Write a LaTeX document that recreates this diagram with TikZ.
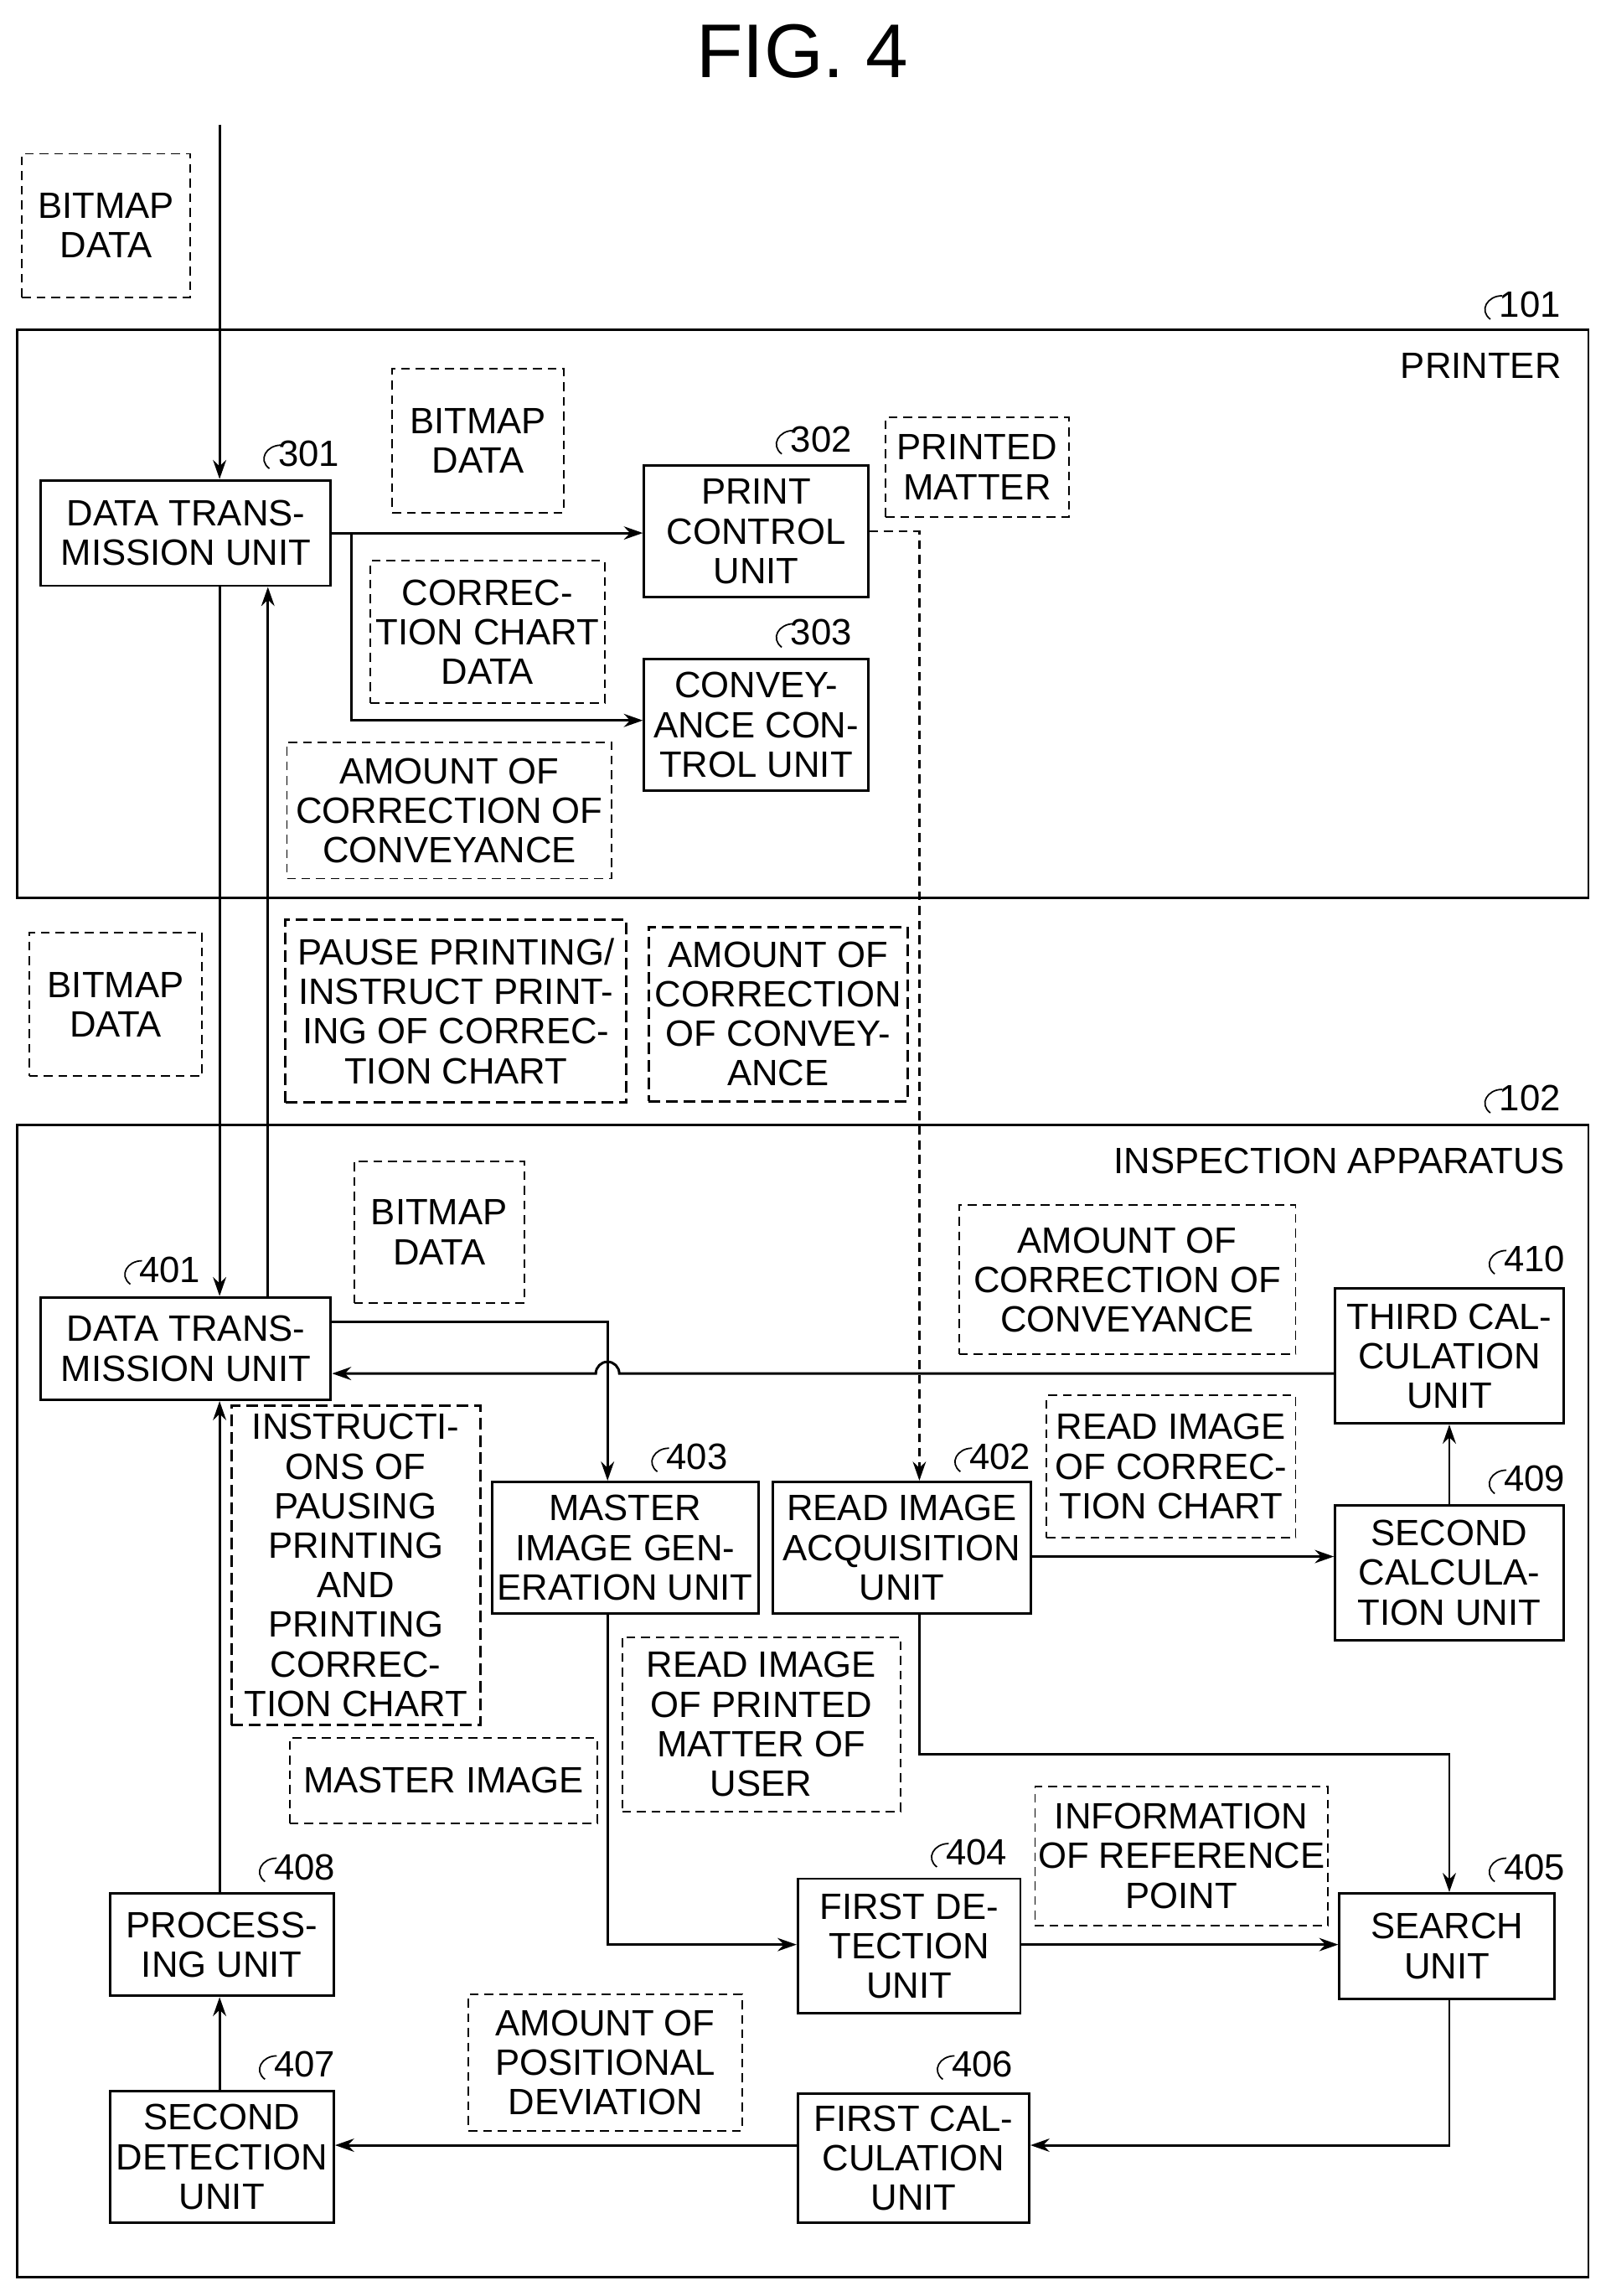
\documentclass[tikz,border=0pt]{standalone}
\usepackage{fontspec}
\setmainfont{Liberation Sans}
\usetikzlibrary{arrows.meta,calc}
\tikzset{
 box/.style={draw,line width=1.7pt,align=center,inner sep=0pt},
 dbox/.style={draw,line width=1.1pt,dash pattern=on 6pt off 4pt,align=center,inner sep=0pt},
 ddbox/.style={draw,line width=1.8pt,dash pattern=on 8pt off 4pt,align=center,inner sep=0pt},
 frame/.style={draw,line width=1.7pt},
 arr/.style={line width=1.7pt,-{Stealth[length=13pt,width=9pt]}},
 darr/.style={line width=1.3pt,dash pattern=on 6pt off 4pt,-{Stealth[length=13pt,width=9pt]}},
}
\newcommand\bx[7][box]{\node[#1,minimum width={(#5-#3)*1pt},minimum height={(#6-#4)*1pt}] (#2) at ({(#3+#5)/2},{(#4+#6)/2}) {#7};}
\newcommand\lab[3]{\draw[line width=1pt] ({#1-12},{#2+10}) .. controls ({#1-20},{#2+4}) and ({#1-14},{#2-6}) .. ({#1-4},{#2-6}); \node[anchor=west,inner sep=0pt] (l#3) at ({#1-6},#2) {#3};}
\begin{document}
\begin{tikzpicture}[x=1pt,y=-1pt,font=\fontsize{25}{27}\selectfont]
\useasboundingbox (0,0) rectangle (1097,1568);
\node[font=\fontsize{52}{56}\selectfont] (title) at (548,35) {FIG. 4};
% printer
\node[frame,minimum width=1073pt,minimum height=388pt] (printer) at (548.5,419) {};
\node[anchor=east] (ptxt) at (1070,250) {PRINTER};
\lab{1030}{208}{101}
\bx[dbox]{bm1}{15}{105}{130}{203}{BITMAP\\DATA}
\bx{n301}{28}{328}{226}{400}{DATA TRANS-\\MISSION UNIT}
\lab{196}{310}{301}
\bx[dbox]{bm2}{268}{252}{385}{350}{BITMAP\\DATA}
\bx{n302}{440}{318}{593}{408}{PRINT\\CONTROL\\UNIT}
\lab{546}{300}{302}
\bx[dbox]{pm}{605}{285}{730}{353}{PRINTED\\MATTER}
\bx{n303}{440}{450}{593}{540}{CONVEY-\\ANCE CON-\\TROL UNIT}
\lab{546}{432}{303}
\bx[dbox]{ccd}{253}{383}{413}{480}{CORREC-\\TION CHART\\DATA}
\bx[dbox]{acc1}{196}{507}{418}{600}{AMOUNT OF\\CORRECTION OF\\CONVEYANCE}
\bx[dbox]{bm3}{20}{637}{138}{735}{BITMAP\\DATA}
\bx[ddbox]{pause}{195}{628}{428}{753}{PAUSE PRINTING/\\INSTRUCT PRINT-\\ING OF CORREC-\\TION CHART}
\bx[ddbox]{acc2}{443}{633}{620}{752}{AMOUNT OF\\CORRECTION\\OF CONVEY-\\ANCE}
% inspection
\node[frame,minimum width=1073pt,minimum height=787pt] (insp) at (548.5,1161.5) {};
\node[anchor=east] (itxt) at (1072,793) {INSPECTION APPARATUS};
\lab{1030}{750}{102}
\bx[dbox]{bm4}{242}{793}{358}{890}{BITMAP\\DATA}
\bx{n401}{28}{886}{226}{956}{DATA TRANS-\\MISSION UNIT}
\lab{101}{867}{401}
\bx[dbox]{acc3}{655}{823}{885}{925}{AMOUNT OF\\CORRECTION OF\\CONVEYANCE}
\bx{n410}{912}{880}{1068}{972}{THIRD CAL-\\CULATION\\UNIT}
\lab{1033}{860}{410}
\bx[ddbox]{instr}{158}{960}{328}{1178}{INSTRUCTI-\\ONS OF\\PAUSING\\PRINTING\\AND\\PRINTING\\CORREC-\\TION CHART}
\bx{n403}{336}{1012}{518}{1102}{MASTER\\IMAGE GEN-\\ERATION UNIT}
\lab{461}{995}{403}
\bx{n402}{528}{1012}{704}{1102}{READ IMAGE\\ACQUISITION\\UNIT}
\lab{668}{995}{402}
\bx[dbox]{ric}{715}{953}{885}{1050}{READ IMAGE\\OF CORREC-\\TION CHART}
\bx{n409}{912}{1028}{1068}{1120}{SECOND\\CALCULA-\\TION UNIT}
\lab{1033}{1010}{409}
\bx[dbox]{rip}{425}{1118}{615}{1237}{READ IMAGE\\OF PRINTED\\MATTER OF\\USER}
\bx[dbox]{mi}{198}{1187}{408}{1245}{MASTER IMAGE}
\bx{n404}{545}{1283}{697}{1375}{FIRST DE-\\TECTION\\UNIT}
\lab{652}{1265}{404}
\bx[dbox]{irp}{707}{1220}{907}{1315}{INFORMATION\\OF REFERENCE\\POINT}
\bx{n405}{915}{1293}{1062}{1365}{SEARCH\\UNIT}
\lab{1033}{1275}{405}
\bx{n406}{545}{1430}{703}{1518}{FIRST CAL-\\CULATION\\UNIT}
\lab{656}{1410}{406}
\bx[dbox]{apd}{320}{1362}{507}{1455}{AMOUNT OF\\POSITIONAL\\DEVIATION}
\bx{n407}{75}{1428}{228}{1518}{SECOND\\DETECTION\\UNIT}
\lab{193}{1410}{407}
\bx{n408}{75}{1293}{228}{1363}{PROCESS-\\ING UNIT}
\lab{193}{1275}{408}
% connectors
\coordinate (in) at (150,85);
\draw[arr] (in) -- (150,0 |- n301.north);
\draw[arr] (n301.east) -- (n301.east -| n302.west);
\draw[arr] (240,0 |- n301.east) -- (240,492) -- (240,492 -| n303.west);
\draw[darr] (n302.east) -- (628,0 |- n302.east) -- (628,0 |- n402.north);
\draw[arr] (183,0 |- n401.north) -- (183,0 |- n301.south);
\draw[arr] (150,0 |- n301.south) -- (150,0 |- n401.north);
\draw[arr] (n410.west |- 0,938) -- (423,938) arc[start angle=0,end angle=180,radius=8pt] -- (n401.east |- 0,938);
\draw[arr] (n401.east |- 0,903) -- (415,903) -- (415,0 |- n403.north);
\draw[arr] (n402.east |- 0,1063) -- (n409.west |- 0,1063);
\draw[arr] (990,0 |- n409.north) -- (990,0 |- n410.south);
\draw[arr] (628,0 |- n402.south) -- (628,1198) -- (990,1198) -- (990,0 |- n405.north);
\draw[arr] (415,0 |- n403.south) -- (415,1328) -- (n404.west |- 0,1328);
\draw[arr] (n404.east |- 0,1328) -- (n405.west |- 0,1328);
\draw[arr] (990,0 |- n405.south) -- (990,1465) -- (n406.east |- 0,1465);
\draw[arr] (n406.west |- 0,1465) -- (n407.east |- 0,1465);
\draw[arr] (150,0 |- n407.north) -- (150,0 |- n408.south);
\draw[arr] (150,0 |- n408.north) -- (150,0 |- n401.south);
\end{tikzpicture}
\end{document}
